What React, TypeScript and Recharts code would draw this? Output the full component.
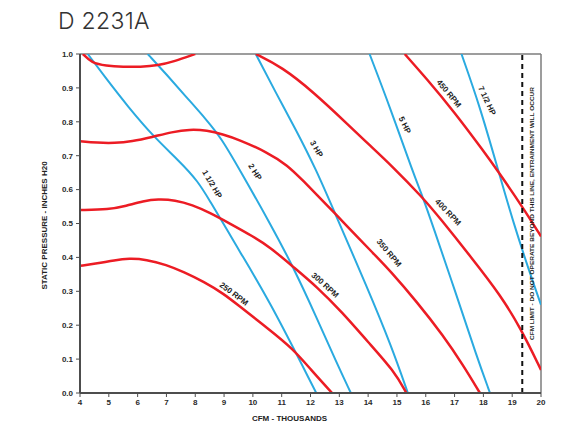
import React from 'react';
import { LineChart, Line, XAxis, YAxis, ReferenceLine, ReferenceDot } from 'recharts';

type Pt = [number, number];

// fan curves: CFM (thousands) vs static pressure (in. H2O)
const rpm250: Pt[] = [[4, 0.375], [4.6, 0.382], [5.2, 0.392], [5.7, 0.397], [6.3, 0.394], [7.0, 0.378], [7.6, 0.357], [8.3, 0.328], [9.0, 0.292], [9.5, 0.258], [10.5, 0.192], [11.4, 0.13], [12.0, 0.07], [12.75, 0]];
const rpm300: Pt[] = [[4, 0.54], [5, 0.541], [5.6, 0.552], [6.2, 0.566], [6.7, 0.572], [7.3, 0.569], [7.9, 0.555], [8.5, 0.532], [9.2, 0.5], [10.0, 0.462], [10.6, 0.43], [11.4, 0.372], [12.2, 0.315], [13.1, 0.238], [14.0, 0.15], [14.9, 0.065], [15.33, 0]];
const rpm350: Pt[] = [[4, 0.743], [4.6, 0.738], [5.2, 0.737], [5.8, 0.742], [6.5, 0.755], [7.2, 0.77], [7.8, 0.778], [8.4, 0.775], [9.0, 0.762], [9.5, 0.748], [10.5, 0.71], [11.2, 0.672], [11.7, 0.63], [12.6, 0.552], [13.2, 0.498], [14.2, 0.41], [14.75, 0.362], [15.7, 0.268], [16.6, 0.17], [17.3, 0.082], [17.88, 0]];
// 400 RPM leaves the top of the chart between ~8 and ~10
const rpm400a: Pt[] = [[4.1, 1.0], [4.4, 0.974], [4.9, 0.965], [5.5, 0.962], [6.1, 0.962], [6.7, 0.966], [7.3, 0.979], [7.9, 0.997], [8.0, 1.0]];
const rpm400b: Pt[] = [[10.1, 1.0], [11.0, 0.962], [12.1, 0.888], [13.3, 0.792], [14.0, 0.735], [14.8, 0.672], [15.9, 0.576], [16.5, 0.515], [17.6, 0.398], [18.6, 0.288], [19.3, 0.19], [20, 0.068]];
const rpm450: Pt[] = [[15.27, 1.0], [16.0, 0.93], [17.0, 0.828], [18.0, 0.714], [18.5, 0.655], [19.35, 0.55], [20, 0.462]];

// brake horsepower lines
const hp1_5: Pt[] = [[4.27, 1.0], [4.85, 0.934], [5.66, 0.845], [6.6, 0.752], [7.4, 0.688], [8.1, 0.625], [8.55, 0.56], [9.0, 0.497], [9.45, 0.43], [10.56, 0.275], [12.2, 0]];
const hp2: Pt[] = [[6.35, 1.0], [7.0, 0.94], [7.7, 0.872], [8.4, 0.805], [8.9, 0.752], [9.5, 0.665], [10.6, 0.5], [11.4, 0.372], [12.2, 0.225], [12.9, 0.09], [13.4, 0]];
const hp3: Pt[] = [[10.1, 1.0], [10.8, 0.885], [11.5, 0.776], [12.2, 0.658], [12.8, 0.54], [14.0, 0.305], [14.8, 0.14], [15.38, 0]];
const hp5: Pt[] = [[14.05, 1.0], [14.75, 0.845], [15.56, 0.65], [15.91, 0.575], [16.2, 0.505], [17.07, 0.288], [17.76, 0.11], [18.23, 0]];
const hp7_5: Pt[] = [[17.24, 1.0], [17.88, 0.845], [18.51, 0.658], [19.05, 0.5], [19.6, 0.357], [20, 0.26]];

const cfmLimit = 19.35;
const cfmTicks = [4, 5, 6, 7, 8, 9, 10, 11, 12, 13, 14, 15, 16, 17, 18, 19, 20];
const spTicks = [0, 0.1, 0.2, 0.3, 0.4, 0.5, 0.6, 0.7, 0.8, 0.9, 1.0];

// curve tags: text, CFM, pressure, rotation
const curveTags: [string, number, number, number][] = [
  ['250 RPM', 9.34, 0.292, 37],
  ['300 RPM', 12.5, 0.318, 42],
  ['350 RPM', 14.72, 0.413, 50],
  ['400 RPM', 16.77, 0.533, 46],
  ['450 RPM', 16.8, 0.883, 50],
  ['1 1/2 HP', 8.58, 0.616, 60],
  ['2 HP', 10.07, 0.652, 58],
  ['3 HP', 12.2, 0.72, 60],
  ['5 HP', 15.27, 0.79, 64],
  ['7 1/2 HP', 18.12, 0.862, 65],
];

const RED = '#ec1c24';
const BLUE = '#2aaae0';
const FONT = '"Liberation Sans", Arial, sans-serif';

const series: { id: string; pts: Pt[]; color: string; width: number }[] = [
  { id: 'hp1_5', pts: hp1_5, color: BLUE, width: 2 },
  { id: 'hp2', pts: hp2, color: BLUE, width: 2 },
  { id: 'hp3', pts: hp3, color: BLUE, width: 2 },
  { id: 'hp5', pts: hp5, color: BLUE, width: 2 },
  { id: 'hp7_5', pts: hp7_5, color: BLUE, width: 2 },
  { id: 'rpm250', pts: rpm250, color: RED, width: 2.5 },
  { id: 'rpm300', pts: rpm300, color: RED, width: 2.5 },
  { id: 'rpm350', pts: rpm350, color: RED, width: 2.5 },
  { id: 'rpm400a', pts: rpm400a, color: RED, width: 2.5 },
  { id: 'rpm400b', pts: rpm400b, color: RED, width: 2.5 },
  { id: 'rpm450', pts: rpm450, color: RED, width: 2.5 },
];

const toRows = (pts: Pt[]) => pts.map(([x, y]) => ({ x, y }));

const CurveTag = (props: any) => {
  const { viewBox, caption, tilt } = props;
  const cx = viewBox.x + (viewBox.width || 0) / 2;
  const cy = viewBox.y + (viewBox.height || 0) / 2;
  return (
    <text x={cx} y={cy} transform={`rotate(${tilt} ${cx} ${cy})`} textAnchor="middle" dominantBaseline="central"
      fontFamily={FONT} fontSize={8} fontWeight={700} fill="#1e1e1e">
      {caption}
    </text>
  );
};

const LimitNote = (props: any) => {
  const { viewBox } = props;
  const x = viewBox.x + 10;
  const y = viewBox.y + viewBox.height / 2 - 10;
  return (
    <text x={x} y={y} transform={`rotate(-90 ${x} ${y})`} textAnchor="middle" dominantBaseline="central"
      fontFamily={FONT} fontSize={6} fontWeight={700} fill="#1e1e1e" textLength={253} lengthAdjust="spacingAndGlyphs">
      CFM LIMIT - DO NOT OPERATE BEYOND THIS LINE, ENTRAINMENT WILL OCCUR
    </text>
  );
};

const YTitle = (props: any) => {
  const { viewBox } = props;
  const x = viewBox.x + 44;
  const y = viewBox.y + viewBox.height / 2 + 2;
  return (
    <text x={x} y={y} transform={`rotate(-90 ${x} ${y})`} textAnchor="middle" dominantBaseline="central"
      fontFamily={FONT} fontSize={8} fontWeight={700} fill="#222">
      STATIC PRESSURE - INCHES H20
    </text>
  );
};

const XTitle = (props: any) => {
  const { viewBox } = props;
  const x = viewBox.x + viewBox.width / 2 - 21;
  const y = viewBox.y + 25;
  return (
    <text x={x} y={y} textAnchor="middle" dominantBaseline="central"
      fontFamily={FONT} fontSize={8} fontWeight={700} fill="#222">
      CFM - THOUSANDS
    </text>
  );
};

const tickStyle = { fontFamily: FONT, fontSize: 8, fontWeight: 700, fill: '#2a2a2a' };

export default function App() {
  return (
    <div style={{ position: 'absolute', left: 0, top: 0, width: 583, height: 423, background: '#fff' }}>
      <LineChart width={583} height={423} margin={{ top: 54, right: 42, bottom: 0, left: 0 }}>
        <XAxis type="number" dataKey="x" domain={[4, 20]} ticks={cfmTicks} allowDataOverflow height={30}
          tick={tickStyle} tickSize={4} tickMargin={2}
          axisLine={{ stroke: '#4d4d4d', strokeWidth: 2 }} tickLine={{ stroke: '#4d4d4d' }}
          label={<XTitle />} />
        <YAxis type="number" dataKey="y" domain={[0, 1]} ticks={spTicks} allowDataOverflow width={80}
          tick={tickStyle} tickSize={4} tickMargin={3} tickFormatter={(v: number) => v.toFixed(1)}
          axisLine={{ stroke: '#4d4d4d', strokeWidth: 2 }} tickLine={{ stroke: '#4d4d4d' }}
          label={<YTitle />} />
        <ReferenceLine y={1} stroke="#7d7d7d" strokeWidth={1.5} />
        <ReferenceLine x={20} stroke="#7d7d7d" strokeWidth={1.5} />
        {series.map((s) => (
          <Line key={s.id} data={toRows(s.pts)} dataKey="y" type="basis" stroke={s.color}
            strokeWidth={s.width} dot={false} activeDot={false} isAnimationActive={false} />
        ))}
        <ReferenceLine x={cfmLimit} stroke="#111" strokeWidth={2} strokeDasharray="5 4" label={<LimitNote />} />
        {curveTags.map(([text, x, y, tilt]) => (
          <ReferenceDot key={text} x={x} y={y} r={0} fill="none" stroke="none"
            label={<CurveTag caption={text} tilt={tilt} />} />
        ))}
      </LineChart>
      <div style={{ position: 'absolute', left: 58, top: 8, fontFamily: 'Inter, "Open Sans", sans-serif', fontWeight: 300, fontSize: 23, lineHeight: '26px', color: '#333', letterSpacing: 0.3 }}>
        D 2231A
      </div>
    </div>
  );
}
